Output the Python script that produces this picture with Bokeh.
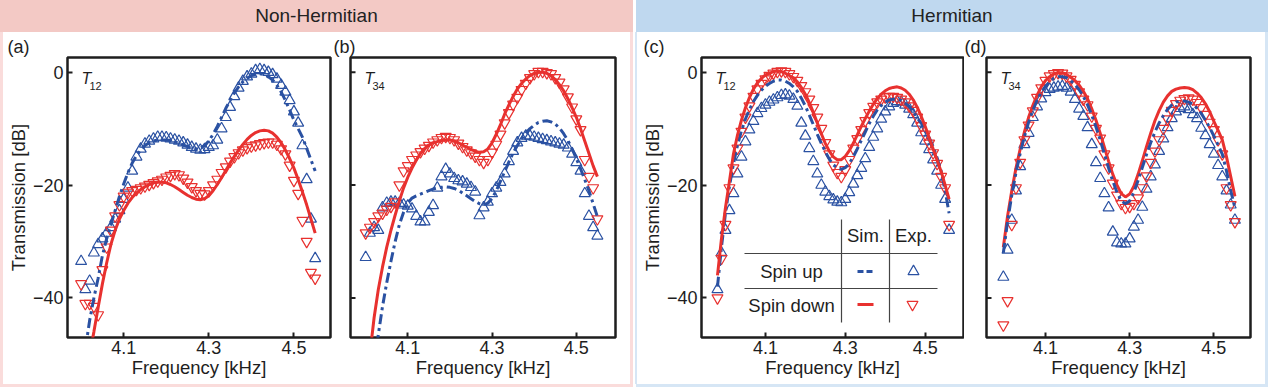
from bokeh.plotting import figure
from bokeh.models import Range1d, FixedTicker, Div, Spacer
from bokeh.layouts import row, column
from bokeh.core.properties import value
from bokeh.embed import file_html
from bokeh.resources import INLINE

# ---------------- data ----------------
F = [4.00, 4.01, 4.02, 4.03, 4.04, 4.05, 4.06, 4.07, 4.08, 4.09,
     4.10, 4.11, 4.12, 4.13, 4.14, 4.15, 4.16, 4.17, 4.18, 4.19,
     4.20, 4.21, 4.22, 4.23, 4.24, 4.25, 4.26, 4.27, 4.28, 4.29,
     4.30, 4.31, 4.32, 4.33, 4.34, 4.35, 4.36, 4.37, 4.38, 4.39,
     4.40, 4.41, 4.42, 4.43, 4.44, 4.45, 4.46, 4.47, 4.48, 4.49,
     4.50, 4.51, 4.52, 4.53, 4.54, 4.55]
F_C = [3.98, 3.99, 4.00, 4.01, 4.02, 4.03, 4.04, 4.05, 4.06, 4.07, 4.08, 4.09,
       4.10, 4.11, 4.12, 4.13, 4.14, 4.15, 4.16, 4.17, 4.18, 4.19,
       4.20, 4.21, 4.22, 4.23, 4.24, 4.25, 4.26, 4.27, 4.28, 4.29,
       4.30, 4.31, 4.32, 4.33, 4.34, 4.35, 4.36, 4.37, 4.38, 4.39,
       4.40, 4.41, 4.42, 4.43, 4.44, 4.45, 4.46, 4.47, 4.48, 4.49,
       4.50, 4.51, 4.52, 4.53, 4.54, 4.55, 4.56]

# (a) Non-Hermitian T12
A_UP_EXP = [-33.5, -38.5, -37, -32, -30.5, -29.5, -28.5, -27.5, -26, -24.5,
            -22.5, -20.5, -17.5, -15, -13.6, -12.7, -12.2, -11.8, -11.5, -11.5,
            -11.6, -11.8, -12, -12.2, -12.5, -12.9, -13.3, -13.6, -13.8, -13.7,
            -13.3, -13, -12, -10, -8, -6.2, -4.3, -2.8, -1.6, -0.8,
            -0.3, 0.3, 0.5, 0.3, 0, -0.4, -1.2, -2.3, -3.5, -5,
            -7, -9, -13, -19, -26, -33]
A_DN_EXP = [-37.5, -41, -41, -41.5, -43, -35, -31, -28, -25.5, -23.5,
            -22, -21.3, -21, -20.8, -20.5, -20.2, -19.9, -19.6, -19.3, -19,
            -18.6, -18.3, -18, -18.2, -18.8, -19.5, -20.3, -21, -21.5, -21.6,
            -21, -20, -19, -17.8, -16.8, -15.8, -15, -14.3, -13.8, -13.4,
            -13.1, -12.9, -12.7, -12.5, -12.4, -12.4, -12.8, -13.6, -14.5, -16.5,
            -19.2, -21.5, -26.3, -30, -35.5, -36.5]
A_UP_SIM = [-49, -44, -40, -36.5, -32.5, -29.5, -27, -24.5, -22, -19.8,
            -17.8, -16.1, -14.8, -13.8, -13, -12.5, -12.2, -12, -12, -12,
            -12.1, -12.3, -12.6, -12.9, -13.2, -13.5, -13.6, -13.5, -13, -12.2,
            -11, -9.6, -8, -6.4, -5, -3.7, -2.6, -1.7, -1.1, -0.6,
            -0.4, -0.3, -0.4, -0.8, -1.4, -2.3, -3.5, -5, -6.7, -8.5,
            -10, -11.5, -13.5, -15.5, -17.5]                       # from 4.01
A_DN_SIM = [-50, -46, -41.7, -37.5, -33.8, -30.5, -28, -26, -24.5,
            -23.2, -22.2, -21.4, -20.8, -20.3, -19.9, -19.6, -19.5, -19.5,
            -19.6, -19.9, -20.3, -20.8, -21.3, -21.8, -22.2, -22.5, -22.6, -22.4,
            -21.9, -21, -19.9, -18.7, -17.4, -16.1, -14.9, -13.8, -12.8, -11.9,
            -11.2, -10.7, -10.4, -10.3, -10.4, -10.8, -11.5, -12.5, -13.8, -15.3,
            -17, -19, -21.2, -23.5, -26, -28.5]                    # from 4.02

# (b) Non-Hermitian T34
B_UP_EXP = [-32.8, -28.5, -27.5, -28, -24, -23.2, -23, -23, -23.2, -23.5,
            -23.7, -24.2, -25.5, -26.5, -26.5, -24.8, -23.6, -20.5, -18.5, -17.2,
            -18, -18.8, -19.2, -19.4, -19.8, -20.4, -21.2, -25.4, -24, -23,
            -21.5, -20.5, -19.5, -18, -15.8, -14, -12.5, -11.7, -11.3, -11.3,
            -11.5, -11.7, -11.9, -12.1, -12.3, -12.5, -12.7, -12.9, -13.4, -14.5,
            -16, -17.5, -21.5, -25.5, -27.5, -29]
B_DN_EXP = [-28.5, -27.5, -26.5, -25.5, -25, -24.3, -23.8, -23, -20, -17.5,
            -16.6, -15.5, -14.7, -14.1, -13.5, -13, -12.4, -12, -11.6, -11.4,
            -11.6, -12, -12.6, -13.2, -13.8, -14.3, -14.9, -15.5, -16, -15.5,
            -14.2, -12.8, -11, -9, -7.2, -5.7, -4.5, -3.1, -2, -1,
            -0.3, 0.1, 0.1, -0.1, -0.3, -1, -1.8, -3, -4.4, -6.2,
            -8.3, -10.2, -15.5, -18.5, -20.5, -26]
B_UP_SIM = [-52, -46.5, -41.5, -37.3, -33.5, -30, -27, -24.8, -23.2,
            -22.3, -21.9, -21.6, -21.3, -21, -20.7, -20.5, -20.4, -20.3,
            -20.4, -20.6, -20.9, -21.4, -21.9, -22.4, -22.9, -23.3, -23.5, -23.2,
            -22.4, -21, -19.3, -17.6, -15.9, -14.3, -13, -11.8, -10.8, -10,
            -9.4, -8.9, -8.7, -8.6, -8.8, -9.2, -9.9, -10.9, -12.1, -13.6,
            -15.3, -17.1, -19, -21, -23.3, -25.6]                  # from 4.02
B_DN_SIM = [-50, -43.5, -38.5, -34.5, -31, -28, -25.3, -22.8, -20.5, -18.6,
            -17, -15.6, -14.4, -13.5, -12.9, -12.5, -12.3, -12.1, -12, -12,
            -12.2, -12.5, -12.9, -13.3, -13.7, -14, -14.2, -14.1, -13.6, -12.5,
            -11, -9.3, -7.4, -5.8, -4.3, -3, -2, -1.2, -0.6, -0.2,
            0, 0, -0.2, -0.6, -1.3, -2.2, -3.3, -4.7, -6.3, -8,
            -10, -12.2, -14.4, -16.6, -18.5]                       # from 4.01

# (c) Hermitian T12 (3.98 ... 4.56)
C_UP_EXP = [-38.5, -32, -28, -24.5, -21.5, -18, -15, -12.3, -10.2, -8.7, -7.3, -6.4,
            -5.8, -5.3, -4.9, -4.5, -4.1, -4, -4.2, -4.8, -6, -9,
            -11.3, -13.5, -15.8, -18, -20, -21.2, -22, -22.6, -23, -23.1,
            -22.5, -21.3, -19.8, -18.3, -17, -15.3, -13.3, -11.5, -10, -8.3,
            -7, -6.1, -5.5, -5.2, -5.3, -5.8, -6.5, -7.5, -9, -10.7,
            -12.2, -13.7, -15.5, -17.5, -20, -22.5, -28]
C_DN_EXP = [-40, -33, -27, -20.5, -17, -13.5, -10.5, -8, -6, -4.3, -3, -2,
            -1.2, -0.6, -0.2, 0.1, 0.2, 0.1, -0.3, -0.8, -1.5, -2.4,
            -3.5, -4.8, -6.3, -8, -10, -12.5, -14.5, -16.5, -17.8, -18.5,
            -17.3, -15.5, -13.5, -11.8, -10.2, -8.6, -7.2, -6.1, -5.3, -4.8,
            -4.4, -4.3, -4.3, -4.5, -4.8, -5.3, -6, -6.8, -8, -9.5,
            -11, -12.6, -14.3, -16.2, -18.5, -20.5, -27]
C_UP_SIM = [-38, -31, -25, -20.2, -16.2, -13, -10.4, -8.3, -6.6, -5.2, -4.1, -3.2,
            -2.5, -2, -1.6, -1.4, -1.4, -1.6, -2, -2.6, -3.4, -4.6,
            -6, -7.6, -9.3, -11, -12.6, -14.1, -15.4, -16.4, -17, -17.2,
            -16.9, -16.2, -15, -13.6, -12.1, -10.6, -9.1, -7.8, -6.7, -5.9,
            -5.3, -4.9, -4.8, -4.8, -5, -5.5, -6.1, -7, -8.1, -9,
            -10.2, -11.6, -13.2, -15.2, -17.5, -21, -25]
C_DN_SIM = [-36, -29.5, -24, -19.3, -14.5, -11.2, -8.5, -6.3, -4.5, -3, -1.9, -1.1,
            -0.5, -0.2, 0.1, 0.2, 0.1, -0.2, -0.6, -1.0, -1.7, -2.7,
            -3.9, -5.4, -7.1, -9, -10.9, -12.6, -14, -15, -15.5, -15.5,
            -14.9, -13.9, -12.6, -11.1, -9.6, -8.2, -6.9, -5.7, -4.7, -3.9,
            -3.3, -2.9, -2.7, -2.6, -2.8, -3.2, -3.9, -4.9, -6.2, -7.8,
            -9.6, -11.6, -13.6, -15.6, -17.6, -20, -22.5]

# (d) Hermitian T34
D_UP_EXP = [-36.3, -31.5, -26.2, -21, -16.7, -12.8, -10.8, -8, -6.1, -4.7,
            -3.6, -3, -2.8, -2.6, -2.5, -2.8, -3.5, -4.8, -6.5, -7.8,
            -9.8, -12.8, -16, -18.8, -21.5, -24, -28.3, -30.2, -30.4, -30.4,
            -29.5, -27.4, -26.2, -23.9, -20.7, -18.5, -16.4, -14, -11.8, -9.8,
            -8.2, -7, -6.4, -6.1, -6.6, -7.5, -8.2, -9.9, -11.2, -12.8,
            -14.5, -16.5, -18.5, -21, -23.5, -26.2]
D_DN_EXP = [-44.8, -40.5, -27, -20.5, -16, -12, -9.4, -6.9, -4.5, -2.8,
            -1.5, -0.7, -0.3, -0.1, -0.2, -0.7, -1.3, -2.2, -3.5, -4.8,
            -5.8, -7.8, -10, -11.7, -14.5, -17, -19.7, -21.8, -23.3, -24,
            -23.8, -23.3, -22.3, -20.5, -18.4, -16, -14, -12, -10, -8.3,
            -6.8, -5.6, -5, -4.7, -4.6, -4.8, -5.4, -6.3, -7.5, -8.9,
            -10.2, -12, -14.5, -20.5, -23.5, -26.5]
D_UP_SIM = [-32, -26.5, -21.8, -17.8, -14.4, -11.4, -8.9, -6.8, -5, -3.6,
            -2.5, -1.7, -1.1, -0.8, -0.8, -1, -1.5, -2.2, -3.1, -4.3,
            -5.8, -7.6, -9.7, -12, -14.5, -17, -19.3, -21.3, -22.8, -23.3,
            -22.8, -21.3, -19.2, -16.9, -14.6, -12.5, -10.6, -9, -7.7, -6.6,
            -5.8, -5.3, -5.1, -5.1, -5.3, -5.7, -6.4, -7.3, -8.5, -9.8,
            -11.3, -12.9, -14.5, -17.5, -21, -24]
D_DN_SIM = [-31, -25.5, -21, -17, -13.6, -10.6, -8, -5.9, -4.1, -2.6,
            -1.5, -0.8, -0.3, -0.1, -0.1, -0.4, -0.9, -1.5, -2.3, -3.4,
            -4.7, -6.5, -8.5, -10.8, -13.3, -15.8, -18.1, -20, -21.5, -22.1,
            -21.6, -20.2, -18.1, -15.7, -13.2, -10.8, -8.6, -6.8, -5.3, -4.2,
            -3.4, -3, -2.8, -2.7, -2.8, -3.1, -3.7, -4.5, -5.6, -7,
            -8.7, -10.3, -12, -15, -18.5, -22]

X_TICKS = [4.1, 4.3, 4.5]
Y_TICKS = [-40, -20, 0]
HEADERS = ["Non-Hermitian", "Hermitian"]
PANEL_LABELS = ["(a)", "(b)", "(c)", "(d)"]
SUBS = ["12", "34", "12", "34"]
LEG_COLS = ["Sim.", "Exp."]
LEG_ROWS = ["Spin up", "Spin down"]

# ---------------- style / layout ----------------
FONT = "Liberation Sans"
BLUE = "#2A51A2"
RED = "#E8312F"
INK = "#1e1e1e"
PINK_HDR, BLUE_HDR = "#F3C9C5", "#BFD8EF"
PINK_EDGE, BLUE_EDGE = "#FADCDB", "#D6E6F5"
DASH = "10 4 3 4"
FIG_H = 352
TOP, BOTTOM = 25, 47
YR = (-47.0, 2.6)


def make_panel(width, left, right, xr, label, label_off, sub, ylabel):
    p = figure(width=width, height=FIG_H, x_range=Range1d(*xr), y_range=Range1d(*YR),
               toolbar_location=None, output_backend="svg",
               min_border_left=left, min_border_right=right,
               min_border_top=TOP, min_border_bottom=BOTTOM,
               outline_line_color=INK, outline_line_width=2.5,
               background_fill_color="white", border_fill_color="white",
               title=label, margin=0)
    p.title.align = "left"
    p.title.offset = label_off
    p.title.standoff = 1
    p.title.text_font = FONT
    p.title.text_font_size = "18px"
    p.title.text_font_style = "normal"
    p.title.text_color = INK
    p.grid.visible = False
    for ax in (p.xaxis, p.yaxis):
        ax.axis_line_color = None
        ax.major_tick_in = 5
        ax.major_tick_out = 0
        ax.minor_tick_in = 0
        ax.minor_tick_out = 0
        ax.major_tick_line_width = 2
        ax.major_tick_line_color = INK
        ax.major_label_text_font = FONT
        ax.major_label_text_font_size = "18px"
        ax.major_label_text_color = INK
        ax.axis_label_text_font = FONT
        ax.axis_label_text_font_size = "18.5px"
        ax.axis_label_text_font_style = "normal"
        ax.axis_label_text_color = INK
    p.xaxis.ticker = FixedTicker(ticks=X_TICKS)
    p.yaxis.ticker = FixedTicker(ticks=Y_TICKS)
    p.xaxis.axis_label = "Frequency [kHz]"
    p.xaxis.major_label_standoff = 3
    p.xaxis.axis_label_standoff = 0
    fw = width - left - right
    fh = FIG_H - TOP - BOTTOM
    sx = (xr[1] - xr[0]) / fw
    sy = (YR[1] - YR[0]) / fh
    if ylabel:
        p.yaxis.axis_label = "Transmission [dB]"
        p.yaxis.major_label_standoff = 4
        p.yaxis.axis_label_standoff = 1
    else:
        # unlabeled panels: only inward tick marks on the left edge
        p.yaxis.visible = False
        p.segment(x0=[xr[0]] * len(Y_TICKS), y0=Y_TICKS,
                  x1=[xr[0] + 5 * sx] * len(Y_TICKS), y1=Y_TICKS,
                  line_color=INK, line_width=2)
    # T_ij label, a fixed pixel distance from the frame corner
    p.text(x=[xr[0] + 14 * sx], y=[YR[1] - 21 * sy], text=["T"],
           text_font=value(FONT), text_font_size="16px", text_font_style="italic",
           text_color=INK, text_align="left", text_baseline="alphabetic")
    p.text(x=[xr[0] + 22 * sx], y=[YR[1] - 28 * sy], text=[sub],
           text_font=value(FONT), text_font_size="11px",
           text_color=INK, text_align="left", text_baseline="alphabetic")
    return p


def add_series(p, fx, up_exp, dn_exp, up_sim, dn_sim, red_on_top):
    p.scatter(fx, up_exp, marker="triangle", size=11, fill_color=None,
              line_color=BLUE, line_width=1.2)
    p.scatter(fx, dn_exp, marker="inverted_triangle", size=11, fill_color=None,
              line_color=RED, line_width=1.2)

    def blue():
        p.line(fx[len(fx) - len(up_sim):], up_sim, line_color=BLUE, line_width=3,
               line_dash=DASH)

    def red():
        p.line(fx[len(fx) - len(dn_sim):], dn_sim, line_color=RED, line_width=3)
    if red_on_top:
        blue(); red()
    else:
        red(); blue()


# widths / borders chosen so the frames sit where the reference's do
pa = make_panel(329, 64, 2, (3.968, 4.586), PANEL_LABELS[0], -60, SUBS[0], True)
pb = make_panel(298, 18, 15, (3.964, 4.593), PANEL_LABELS[1], -17, SUBS[1], False)
pc = make_panel(327, 64, 1, (3.94, 4.596), PANEL_LABELS[2], -58, SUBS[2], True)
pd = make_panel(301, 22, 15, (3.96, 4.587), PANEL_LABELS[3], -22, SUBS[3], False)

add_series(pa, F, A_UP_EXP, A_DN_EXP, A_UP_SIM, A_DN_SIM, False)
add_series(pb, F, B_UP_EXP, B_DN_EXP, B_UP_SIM, B_DN_SIM, False)
add_series(pc, F_C, C_UP_EXP, C_DN_EXP, C_UP_SIM, C_DN_SIM, True)
add_series(pd, F, D_UP_EXP, D_DN_EXP, D_UP_SIM, D_DN_SIM, False)

# ---- legend table inside panel (c): positions in pixels from the frame's top-left ----
C_XR = (3.94, 4.596)
C_FW = 327 - 64 - 1
C_FH = FIG_H - TOP - BOTTOM


def cx(dx):
    return C_XR[0] + dx / C_FW * (C_XR[1] - C_XR[0])


def cy(dy):
    return YR[1] - dy / C_FH * (YR[1] - YR[0])


V_LINES = [140, 188]          # x offsets, run from dy 162 to 265
H_LINES = [196, 231]          # y offsets, run from dx 43 to 236
pc.segment(x0=[cx(v) for v in V_LINES], y0=[cy(162)] * 2,
           x1=[cx(v) for v in V_LINES], y1=[cy(265)] * 2,
           line_color="#444444", line_width=1.2)
pc.segment(x0=[cx(43)] * 2, y0=[cy(h) for h in H_LINES],
           x1=[cx(236)] * 2, y1=[cy(h) for h in H_LINES],
           line_color="#444444", line_width=1.2)
pc.text(x=[cx(164), cx(212)], y=[cy(178)] * 2, text=LEG_COLS,
        text_font=value(FONT), text_font_size="18.5px", text_color=INK,
        text_align="center", text_baseline="middle")
pc.text(x=[cx(90), cx(90)], y=[cy(214), cy(248)], text=LEG_ROWS,
        text_font=value(FONT), text_font_size="18.5px", text_color=INK,
        text_align="center", text_baseline="middle")
pc.line(x=[cx(156), cx(172)], y=[cy(214)] * 2, line_color=BLUE, line_width=3,
        line_dash="6 3 6 3")
pc.line(x=[cx(156), cx(172)], y=[cy(247)] * 2, line_color=RED, line_width=3)
pc.scatter(x=[cx(212)], y=[cy(214)], marker="triangle", size=11, fill_color=None,
           line_color=BLUE, line_width=1.2)
pc.scatter(x=[cx(211)], y=[cy(247)], marker="inverted_triangle", size=11,
           fill_color=None, line_color=RED, line_width=1.2)

# ---------------- page ----------------
HDR_STYLE = ("font-family:'Liberation Sans',Arial,sans-serif;font-size:19px;"
             "color:#222;line-height:32px;text-align:center;")
hdr_l = Div(text=f'<div style="{HDR_STYLE}width:633px;">{HEADERS[0]}</div>',
            width=633, height=32, margin=0, styles={"background-color": PINK_HDR})
hdr_r = Div(text=f'<div style="{HDR_STYLE}width:632px;">{HEADERS[1]}</div>',
            width=632, height=32, margin=0, styles={"background-color": BLUE_HDR})
hdr_gap = Spacer(width=3, height=32, margin=0)

edge_l = Div(text="", width=3, height=FIG_H, margin=0,
             styles={"background-color": PINK_EDGE})
edge_r = Div(text="", width=3, height=FIG_H, margin=0,
             styles={"background-color": BLUE_EDGE})
divider = Div(text="", width=7, height=FIG_H, margin=0,
              styles={"background": f"linear-gradient(to right, {PINK_EDGE} 0px, {PINK_EDGE} 3px, "
                                    f"#ffffff 3px, #ffffff 5px, {BLUE_EDGE} 5px, {BLUE_EDGE} 7px)"})
foot_l = Div(text="", width=633, height=3, margin=0, styles={"background-color": PINK_EDGE})
foot_gap = Spacer(width=3, height=3, margin=0)
foot_r = Div(text="", width=632, height=3, margin=0, styles={"background-color": BLUE_EDGE})

layout = column(row(hdr_l, hdr_gap, hdr_r, spacing=0),
                row(edge_l, pa, pb, divider, pc, pd, edge_r, spacing=0),
                row(foot_l, foot_gap, foot_r, spacing=0),
                spacing=0)

open("out.html", "w").write(file_html(layout, INLINE))
